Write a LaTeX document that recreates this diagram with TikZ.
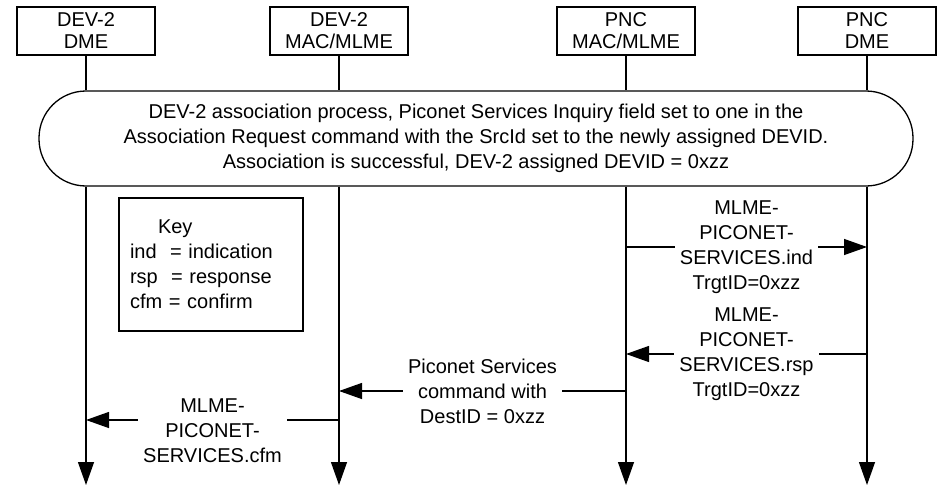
\documentclass[tikz,border=0pt]{standalone}
\usepackage{fontspec}
\setmainfont{Liberation Sans}
\usetikzlibrary{arrows.meta}

\begin{document}
\begin{tikzpicture}[x=1pt, y=-1pt, line width=1.3pt, >={Triangle[length=23pt,width=16pt]},
    every node/.style={font=\fontsize{20}{25}\selectfont, align=center},
    entity/.style={draw, minimum width=138pt, minimum height=48pt, inner sep=1pt, font=\fontsize{20}{22}\selectfont},
    msg/.style={fill=white, inner xsep=5pt, inner ysep=1pt}]
      \useasboundingbox (0,0) rectangle (945,487);

      % Header boxes
      \node[entity] (D2DME) at (86,31) {DEV-2\\DME};
      \node[entity] (D2MAC) at (339,31) {DEV-2\\MAC/MLME};
      \node[entity] (PNCMAC) at (626,31) {PNC\\MAC/MLME};
      \node[entity] (PNCDME) at (867,31) {PNC\\DME};

      % Association process
      \node[draw, rounded corners=47pt, minimum width=874pt, minimum height=95pt] (Assoc) at (476,138.5)
        {DEV-2 association process, Piconet Services Inquiry field set to one in the\\
         Association Request command with the SrcId set to the newly assigned DEVID.\\
         Association is successful, DEV-2 assigned DEVID = 0xzz};

      % Key
      \node[draw, minimum width=184pt, minimum height=133pt, text width=162pt, align=left, inner xsep=11pt] (Key) at (211,264.5)
        {\hspace*{28pt}Key\\ind~~= indication\\rsp~~= response\\cfm~= confirm};

      % Lifeline ends
      \coordinate (E1) at (86,485);
      \coordinate (E2) at (339,485);
      \coordinate (E3) at (626,485);
      \coordinate (E4) at (867,485);

      % Lifelines
      \draw (D2DME) -- (D2DME |- Assoc.north);
      \draw (D2MAC) -- (D2MAC |- Assoc.north);
      \draw (PNCMAC) -- (PNCMAC |- Assoc.north);
      \draw (PNCDME) -- (PNCDME |- Assoc.north);
      \draw[->] (D2DME |- Assoc.south) -- (E1);
      \draw[->] (D2MAC |- Assoc.south) -- (E2);
      \draw[->] (PNCMAC |- Assoc.south) -- (E3);
      \draw[->] (PNCDME |- Assoc.south) -- (E4);

      % Message points
      \coordinate (IndA) at (626,247);
      \coordinate (IndB) at (867,247);
      \coordinate (RspA) at (867,354);
      \coordinate (RspB) at (626,354);
      \coordinate (CmdA) at (626,391);
      \coordinate (CmdB) at (339,391);
      \coordinate (CfmA) at (339,420);
      \coordinate (CfmB) at (86,420);

      % Messages
      \draw[->] (IndA) -- node[msg] {MLME-\\PICONET-\\SERVICES.ind\\TrgtID=0xzz} (IndB);
      \draw[->] (RspA) -- node[msg] {MLME-\\PICONET-\\SERVICES.rsp\\TrgtID=0xzz} (RspB);
      \draw[->] (CmdA) -- node[msg] {Piconet Services\\command with\\DestID = 0xzz} (CmdB);
      \draw[->] (CfmA) -- node[msg, yshift=-11pt] {MLME-\\PICONET-\\SERVICES.cfm} (CfmB);
    \end{tikzpicture}
\end{document}
